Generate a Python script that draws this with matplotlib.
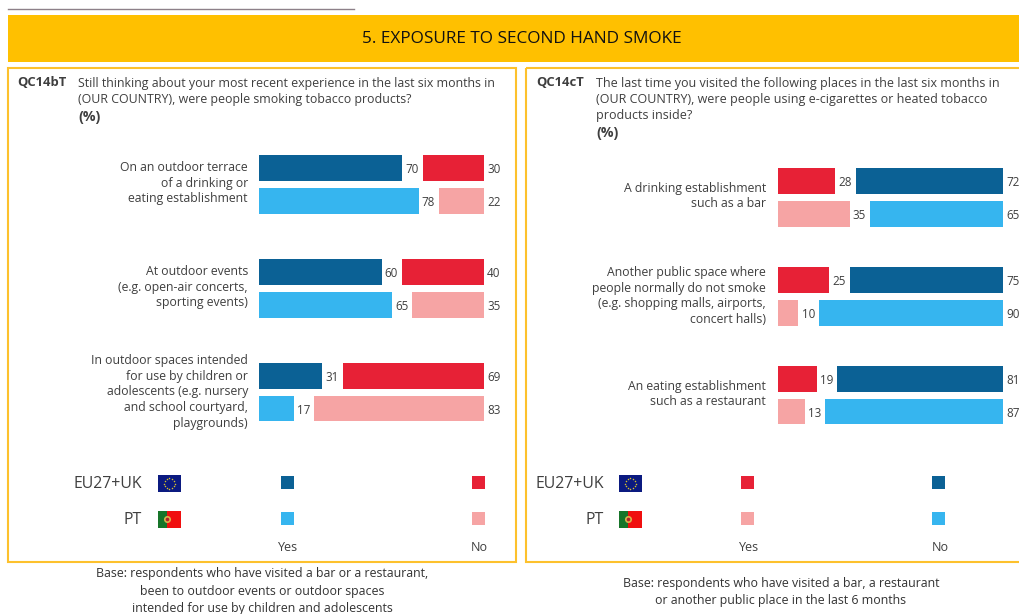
import numpy as np
import matplotlib
matplotlib.use("Agg")
import matplotlib.pyplot as plt
from matplotlib.patches import Rectangle

plt.rcParams["font.family"] = ["Open Sans", "DejaVu Sans"]

TEXT = "#3f3f3f"
DARK_BLUE = "#0b6195"
LIGHT_BLUE = "#36b5ef"
RED = "#e72136"
PINK = "#f6a4a4"
YELLOW = "#ffc000"
BORDER = "#fdc12d"

left_labels = [
    "On an outdoor terrace\nof a drinking or\neating establishment",
    "At outdoor events\n(e.g. open-air concerts,\nsporting events)",
    "In outdoor spaces intended\nfor use by children or\nadolescents (e.g. nursery\nand school courtyard,\nplaygrounds)",
]
left_yes_eu = [70, 60, 31]
left_no_eu = [30, 40, 69]
left_yes_pt = [78, 65, 17]
left_no_pt = [22, 35, 83]

right_labels = [
    "A drinking establishment\nsuch as a bar",
    "Another public space where\npeople normally do not smoke\n(e.g. shopping malls, airports,\nconcert halls)",
    "An eating establishment\nsuch as a restaurant",
]
right_yes_eu = [28, 25, 19]
right_no_eu = [72, 75, 81]
right_yes_pt = [35, 10, 13]
right_no_pt = [65, 90, 87]

W, H = 1020, 614
fig = plt.figure(figsize=(W / 100, H / 100), dpi=100)

# full page axes in pixel units for frames, text, legend
bg = fig.add_axes([0, 0, 1, 1])
bg.set_xlim(0, W)
bg.set_ylim(H, 0)
bg.axis("off")


def px_axes(x0, y0, x1, y1):
    ax = fig.add_axes([x0 / W, 1 - y1 / H, (x1 - x0) / W, (y1 - y0) / H])
    ax.patch.set_alpha(0)
    ax.axis("off")
    return ax


def txt(x, y, s, size=8.9, ha="left", weight="normal", color=TEXT, **kw):
    bg.text(x, y + 1, s, fontsize=size, ha=ha, va="center", fontweight=weight, color=color, **kw)


def panel_bars(x0, top, bottom, pitch, a_eu, b_eu, a_pt, b_pt, colors):
    # 110 units wide: 100 for the two parts and a gap of 10 for the value label
    ax = px_axes(x0, top, x0 + 225, bottom)
    ax.set_xlim(0, 110)
    ax.set_ylim(bottom - top, 0)
    for i in range(3):
        for j, (a, b) in enumerate([(a_eu[i], b_eu[i]), (a_pt[i], b_pt[i])]):
            y = i * pitch + j * 33 + 12.75
            ax.barh(y, a, height=25.5, color=colors[j][0])
            ax.barh(y, b, height=25.5, left=a + 10, color=colors[j][1])
            ax.text(a + 1.5, y + 1.5, str(a), fontsize=8.4, va="center", color=TEXT)
            ax.text(a + 10 + b + 1.5, y + 1.5, str(b), fontsize=8.4, va="center", color=TEXT, clip_on=False)
    return ax


def eu_flag(x, y, w=23, h=17):
    bg.add_patch(Rectangle((x, y), w, h, color="#0b1a80", lw=0))
    ang = np.linspace(0, 2 * np.pi, 12, endpoint=False)
    bg.scatter(x + w / 2 + 5.2 * np.cos(ang), y + h / 2 + 5.2 * np.sin(ang), s=1.2, color="#d8c22c", lw=0)


def pt_flag(x, y, w=23, h=17):
    bg.add_patch(Rectangle((x, y), w * 0.4, h, color="#17752a", lw=0))
    bg.add_patch(Rectangle((x + w * 0.4, y), w * 0.6, h, color="#f00f0f", lw=0))
    bg.scatter([x + w * 0.4], [y + h / 2], s=26, color="#d9b44a", lw=0, zorder=3)
    bg.scatter([x + w * 0.4], [y + h / 2], s=7, color="#b0202a", lw=0, zorder=4)


def legend(x_name, x_flag, x_first, x_second, first_colors, second_colors, x_yes, x_no):
    txt(x_name, 483.5, "EU27+UK", size=11.4, ha="right")
    txt(x_name, 518.5, "PT", size=11.4, ha="right")
    eu_flag(x_flag, 475)
    pt_flag(x_flag, 510.5)
    for k, y in enumerate([476, 512]):
        bg.add_patch(Rectangle((x_first, y), 13, 13, color=first_colors[k], lw=0))
        bg.add_patch(Rectangle((x_second, y), 13, 13, color=second_colors[k], lw=0))
    txt(x_yes, 546.5, "Yes", size=9, ha="center")
    txt(x_no, 546.5, "No", size=9, ha="center")


# header
bg.plot([8, 354], [9, 9], color="#8d8089", lw=1)
bg.add_patch(Rectangle((8, 15), W - 8, 47, color=YELLOW, lw=0))
txt(522, 38, "5. EXPOSURE TO SECOND HAND SMOKE", size=12.45, ha="center", color="#111111")

# panel frames
bg.add_patch(Rectangle((8, 67.5), 508, 494, fill=False, ec=BORDER, lw=1.5))
bg.add_patch(Rectangle((526, 67.5), 520, 494, fill=False, ec=BORDER, lw=1.5))

# left panel
txt(17.5, 82, "QC14bT", weight="bold", size=9.4)
txt(78, 82, "Still thinking about your most recent experience in the last six months in")
txt(78, 98, "(OUR COUNTRY), were people smoking tobacco products?")
txt(78, 116, "(%)", weight="bold", size=10.2)

for lab, yc in zip(left_labels, [182, 286, 391]):
    txt(248, yc, lab, size=8.8, ha="right", linespacing=1.28)

panel_bars(259, 155, 421, 104, left_yes_eu, left_no_eu, left_yes_pt, left_no_pt,
           [(DARK_BLUE, RED), (LIGHT_BLUE, PINK)])
legend(142, 158, 281, 472, [DARK_BLUE, LIGHT_BLUE], [RED, PINK], 288, 479)

txt(262, 573, "Base: respondents who have visited a bar or a restaurant,", ha="center", color="#333333")
txt(262, 591, "been to outdoor events or outdoor spaces", ha="center", color="#333333")
txt(262, 607.5, "intended for use by children and adolescents", ha="center", color="#333333")

# right panel
txt(536.5, 82, "QC14cT", weight="bold", size=9.4)
txt(596, 82, "The last time you visited the following places in the last six months in", size=9)
txt(596, 98, "(OUR COUNTRY), were people using e-cigarettes or heated tobacco", size=9)
txt(596, 114, "products inside?", size=9)
txt(596, 132, "(%)", weight="bold", size=10.2)

for lab, yc in zip(right_labels, [195, 295, 393]):
    txt(766, yc, lab, size=8.8, ha="right", linespacing=1.28)

panel_bars(778, 168, 424, 99, right_yes_eu, right_no_eu, right_yes_pt, right_no_pt,
           [(RED, DARK_BLUE), (PINK, LIGHT_BLUE)])
legend(604, 619, 741, 932, [RED, PINK], [DARK_BLUE, LIGHT_BLUE], 749, 940)

txt(781, 582, "Base: respondents who have visited a bar, a restaurant", ha="center", color="#333333")
txt(781, 599.5, "or another public place in the last 6 months", ha="center", color="#333333")

fig.savefig("out.png", dpi=100)
